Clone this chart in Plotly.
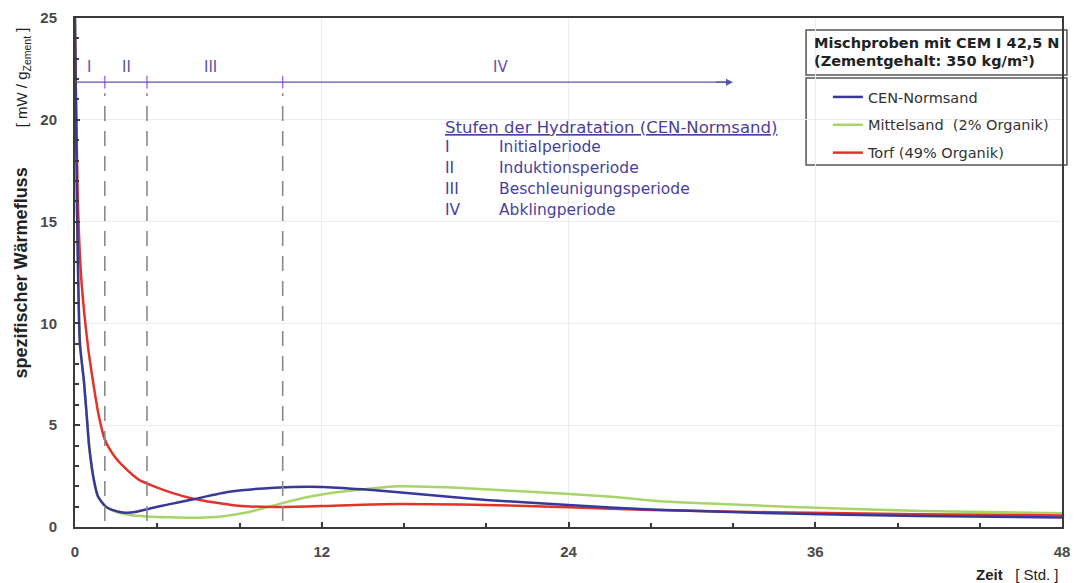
import plotly.graph_objects as go

# ---------------- data ----------------
t_cen = [0, 0.1, 0.24, 0.43, 0.56, 0.69, 0.92, 1.12, 1.5, 2.0, 2.45, 3.0, 3.6, 4.5, 5.7, 7.5, 9.7, 12, 14, 16, 20, 24, 28, 34, 41, 48]
y_cen = [25, 15.5, 9.0, 7.2, 5.6, 3.95, 2.3, 1.5, 1.0, 0.78, 0.70, 0.75, 0.9, 1.1, 1.35, 1.73, 1.93, 1.97, 1.85, 1.68, 1.33, 1.08, 0.86, 0.67, 0.54, 0.47]

t_mit = [0, 0.1, 0.24, 0.43, 0.56, 0.69, 0.92, 1.12, 1.5, 2.0, 2.65, 3.5, 4.6, 6, 7, 8.4, 10, 11.2, 12.9, 15.7, 18.1, 22.1, 26.1, 28.5, 34.6, 41.1, 48]
y_mit = [25, 15.5, 9.0, 7.2, 5.6, 3.95, 2.3, 1.5, 1.0, 0.75, 0.59, 0.52, 0.48, 0.46, 0.5, 0.72, 1.15, 1.45, 1.73, 2.0, 1.95, 1.73, 1.49, 1.26, 1.0, 0.79, 0.67]

t_torf = [0, 0.16, 0.32, 0.64, 0.9, 1.13, 1.45, 1.9, 2.33, 3.14, 3.94, 4.8, 5.7, 6.8, 7.8, 9.7, 12, 15, 20, 24, 28, 34, 41, 48]
y_torf = [24, 15.3, 12.0, 8.8, 7.0, 5.6, 4.3, 3.5, 3.0, 2.3, 1.96, 1.65, 1.4, 1.2, 1.06, 0.98, 1.03, 1.12, 1.08, 0.97, 0.84, 0.72, 0.63, 0.57]

series_names = ["CEN-Normsand", "Mittelsand  (2% Organik)", "Torf (49% Organik)"]

phase_bounds = [1.45, 3.5, 10.1]
phase_labels = ["I", "II", "III", "IV"]
phase_label_x = [0.68, 2.5, 6.6, 20.7]
phase_arrow_end = 32
phase_line_y = 21.85

stage_title = "Stufen der Hydratation (CEN-Normsand)"
stage_nums = ["I", "II", "III", "IV"]
stage_names = ["Initialperiode", "Induktionsperiode", "Beschleunigungsperiode", "Abklingperiode"]

x_ticks = [0, 12, 24, 36, 48]
y_ticks = [0, 5, 10, 15, 20, 25]

# ---------------- styles ----------------
FONT = "Liberation Sans, Arial, sans-serif"
WFONT = "DejaVu Sans, Verdana, sans-serif"
C_BLUE = "#38389a"
C_GREEN = "#a8d46a"
C_RED = "#e2332a"
C_TEXT = "#4a3f9e"
C_PH = "#5a55a8"
C_AX = "#3a3a3a"

# plot-area pixel helpers (pixels of the plot frame: 75..1070 x, 18..527 y)
def px(x):
    return (x - 75) / 995

def py(y):
    return (527 - y) / 509

fig = go.Figure()
for t, y, name, col, rank in [
    (t_mit, y_mit, series_names[1], C_GREEN, 2),
    (t_torf, y_torf, series_names[2], C_RED, 3),
    (t_cen, y_cen, series_names[0], C_BLUE, 1),
]:
    fig.add_trace(go.Scatter(x=t, y=y, mode="lines", name=name, legendrank=rank, legendgroup=str(rank),
                             line=dict(color=col, width=2.5, shape="spline", smoothing=0.6)))

shapes = []
for b in phase_bounds:
    shapes.append(dict(type="line", xref="x", yref="y", x0=b, x1=b, y0=0.3, y1=21.3,
                       line=dict(color="#8a8a8a", width=1.6, dash="15px,10px")))
shapes.append(dict(type="rect", xref="paper", yref="paper", x0=px(812), x1=px(1075), y0=py(75), y1=py(30),
                   line=dict(color="#555", width=1.5), fillcolor="white", layer="below"))
shapes.append(dict(type="rect", xref="paper", yref="paper", x0=px(812), x1=px(1075), y0=py(165), y1=py(78),
                   line=dict(color="#555", width=1.5), fillcolor="white", layer="below"))
shapes.append(dict(type="line", xref="x", yref="y", x0=0, x1=phase_arrow_end - 0.3, y0=phase_line_y, y1=phase_line_y,
                   line=dict(color=C_PH, width=1.4)))
fig.update_layout(shapes=shapes)

fig.add_trace(go.Scatter(x=phase_bounds, y=[phase_line_y] * len(phase_bounds), mode="markers",
                         marker=dict(symbol="line-ns-open", size=9, line=dict(color=C_PH, width=1.4)),
                         showlegend=False, hoverinfo="skip"))

ann = []
ann.append(dict(x=phase_arrow_end, y=phase_line_y, ax=phase_arrow_end - 1, ay=phase_line_y,
                xref="x", yref="y", axref="x", ayref="y", showarrow=True, arrowhead=2,
                arrowsize=1, arrowwidth=1.4, arrowcolor=C_PH, text=" "))
for lx, lab in zip(phase_label_x, phase_labels):
    ann.append(dict(x=lx, y=22.6, xref="x", yref="y", text=lab, showarrow=False,
                    xanchor="center", yanchor="middle",
                    font=dict(family=WFONT, size=15, color=C_PH)))

ann.append(dict(x=px(446), y=py(127), xref="paper", yref="paper", xanchor="left", yanchor="middle",
                text="<u>" + stage_title + "</u>", showarrow=False,
                font=dict(family=WFONT, size=16.5, color=C_TEXT)))
for i, (n, s) in enumerate(zip(stage_nums, stage_names)):
    yy = 147 + i * 21
    ann.append(dict(x=px(446), y=py(yy), xref="paper", yref="paper", xanchor="left", yanchor="middle",
                    text=n, showarrow=False, font=dict(family=WFONT, size=15.5, color=C_TEXT)))
    ann.append(dict(x=px(500), y=py(yy), xref="paper", yref="paper", xanchor="left", yanchor="middle",
                    text=s, showarrow=False, font=dict(family=WFONT, size=15.5, color=C_TEXT)))

ann.append(dict(x=px(818), y=py(43), xref="paper", yref="paper", xanchor="left", yanchor="middle",
                showarrow=False, text="<b>Mischproben mit CEM I 42,5 N</b>",
                font=dict(family=WFONT, size=14.5, color="#222")))
ann.append(dict(x=px(818), y=py(61), xref="paper", yref="paper", xanchor="left", yanchor="middle",
                showarrow=False, text="<b>(Zementgehalt: 350 kg/m³)</b>",
                font=dict(family=WFONT, size=14.5, color="#222")))

ann.append(dict(x=px(21), y=py(203), xref="paper", yref="paper", textangle=-90,
                xanchor="center", yanchor="middle", showarrow=False,
                text="<b>spezifischer Wärmefluss</b>        <span style='font-size:15px'>[ mW / g<sub>Zement</sub> ]</span>",
                font=dict(family=FONT, size=18, color="#222")))
ann.append(dict(x=px(1069), y=py(574), xref="paper", yref="paper", xanchor="right", yanchor="middle",
                showarrow=False, text="<b>Zeit</b>   [ Std. ]",
                font=dict(family=FONT, size=15, color="#222")))
fig.update_layout(annotations=ann)

fig.update_layout(
    width=1079, height=583,
    margin=dict(l=75, r=9, t=18, b=56),
    paper_bgcolor="white", plot_bgcolor="white",
    font=dict(family=FONT, size=13, color=C_AX),
    legend=dict(x=px(834), y=py(81), xanchor="left", yanchor="top",
                bgcolor="rgba(0,0,0,0)", borderwidth=0, tracegroupgap=6,
                font=dict(family=WFONT, size=14.5, color="#333")),
    showlegend=True,
)
fig.update_xaxes(range=[0, 48], tickvals=x_ticks, ticks="inside", ticklen=5, tickwidth=1.5, tickcolor=C_AX,
                 showline=True, linecolor=C_AX, linewidth=2, mirror=True,
                 showgrid=True, gridcolor="#ececec", gridwidth=1, zeroline=False,
                 minor=dict(dtick=4, ticks="inside", ticklen=4, tickcolor=C_AX, showgrid=False),
                 ticklabeloverflow="allow",
                 tickfont=dict(family=FONT, size=15, color="#4a4a4a", weight="bold"), ticklabelstandoff=10)
fig.update_yaxes(range=[0, 25], tickvals=y_ticks, ticks="inside", ticklen=5, tickwidth=1.5, tickcolor=C_AX,
                 showline=True, linecolor=C_AX, linewidth=2, mirror=True,
                 showgrid=True, gridcolor="#ececec", gridwidth=1, zeroline=False,
                 minor=dict(dtick=1, ticks="inside", ticklen=4, tickcolor=C_AX, showgrid=False),
                 tickfont=dict(family=FONT, size=15, color="#4a4a4a", weight="bold"), ticklabelstandoff=13)

# remove the default 8px page margin so the 1079x583 figure fills the window exactly
fig.write_html("out.html", config={"displayModeBar": False},
               post_script="document.body.style.margin='0';document.body.style.overflow='hidden';")
